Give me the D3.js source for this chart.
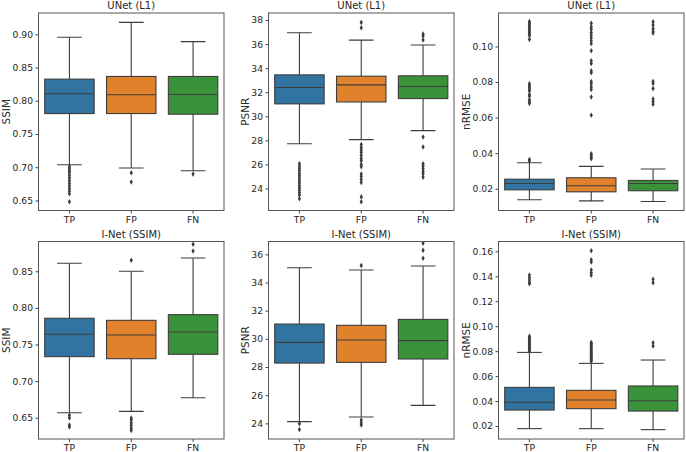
<!DOCTYPE html>
<html lang="en">
<head>
<meta charset="UTF-8">
<title>Box plots TP / FP / FN</title>
<script src="https://d3js.org/d3.v7.min.js"></script>
<style>
  body { margin: 0; background: #fff; }
  svg { display: block; font-family: "DejaVu Sans", sans-serif; }
  .tick text { fill: #262626; }
  .tick line { stroke: #444; }
</style>
</head>
<body>
<div class="viz"></div>
<script>
const categories = ["TP", "FP", "FN"];
const colors = ["#3274a1", "#e1812c", "#3a923a"];
const titles = ["UNet (L1)", "UNet (L1)", "UNet (L1)", "I-Net (SSIM)", "I-Net (SSIM)", "I-Net (SSIM)"];
const metrics = ["SSIM", "PSNR", "nRMSE", "SSIM", "PSNR", "nRMSE"];

// y ranges
const yDomains = [
    [0.6349, 0.9321], [22.17, 38.58], [0.0078, 0.1188],
    [0.6209, 0.8907], [22.89, 36.91], [0.0096, 0.1679]
];
const yTicks = [
    [0.65, 0.70, 0.75, 0.80, 0.85, 0.90],
    [24, 26, 28, 30, 32, 34, 36, 38],
    [0.02, 0.04, 0.06, 0.08, 0.10],
    [0.65, 0.70, 0.75, 0.80, 0.85],
    [24, 26, 28, 30, 32, 34, 36],
    [0.02, 0.04, 0.06, 0.08, 0.10, 0.12, 0.14, 0.16]
];
const tickFormats = [".2f", "d", ".2f", ".2f", "d", ".2f"];

// [lower whisker, q1, median, q3, upper whisker] for TP, FP, FN
const unetSsimBoxes = [
    [0.7038, 0.7808, 0.8105, 0.8326, 0.8955],
    [0.6988, 0.7808, 0.8090, 0.8366, 0.9180],
    [0.6948, 0.7798, 0.8095, 0.8366, 0.8890]
];
const unetSsimFliers = [
    [0.701, 0.698, 0.695, 0.692, 0.688, 0.684, 0.680, 0.676, 0.672, 0.668, 0.664, 0.660, 0.648],
    [0.6917, 0.6777],
    [0.6897]
];
const unetPsnrBoxes = [
    [27.72, 31.03, 32.39, 33.44, 36.94],
    [28.06, 31.19, 32.61, 33.33, 36.33],
    [28.81, 31.47, 32.47, 33.36, 35.92]
];
const unetPsnrFliers = [
    [26.05, 25.85, 25.65, 25.45, 25.25, 25.05, 24.85, 24.65, 24.45, 24.25, 24.05, 23.85, 23.65, 23.45, 23.15],
    [37.80, 37.35, 27.65, 27.40, 27.20, 27.00, 26.75, 26.50, 26.30, 26.00, 25.80, 25.20, 25.00, 24.75, 24.50, 23.30, 22.90],
    [36.83, 36.67, 36.33, 28.28, 27.44, 26.06, 25.86, 25.64, 25.42, 25.22, 24.94]
];
const unetNrmseBoxes = [
    [0.0138, 0.0194, 0.0230, 0.0254, 0.0346],
    [0.0132, 0.0183, 0.0217, 0.0262, 0.0326],
    [0.0129, 0.0189, 0.0230, 0.0247, 0.0311]
];
const unetNrmseFliers = [
    [0.0364, 0.0356, 0.114, 0.113, 0.112, 0.111, 0.110, 0.109, 0.108, 0.107, 0.106, 0.104,
     0.079, 0.078, 0.077, 0.076, 0.075, 0.073, 0.072, 0.070, 0.069, 0.068],
    [0.0397, 0.0388, 0.0378, 0.0369, 0.0613, 0.0716, 0.0758, 0.0773, 0.0792, 0.0803, 0.0852, 0.0863,
     0.0904, 0.0919, 0.0976, 0.1017, 0.1032, 0.1049, 0.1064, 0.1079, 0.1096, 0.1111, 0.1130],
    [0.1139, 0.1120, 0.1100, 0.1085, 0.1075, 0.0803, 0.0792, 0.0763, 0.0705, 0.0690, 0.0675]
];
const inetSsimBoxes = [
    [0.6568, 0.7334, 0.7639, 0.7858, 0.8610],
    [0.6587, 0.7306, 0.7630, 0.7830, 0.8500],
    [0.6773, 0.7366, 0.7671, 0.7908, 0.8682]
];
const inetSsimFliers = [
    [0.6532, 0.6495, 0.6400, 0.6373],
    [0.8650, 0.6495, 0.6468, 0.6432, 0.6396, 0.6359, 0.6327],
    [0.8778, 0.8869]
];
const inetPsnrBoxes = [
    [24.12, 28.28, 29.75, 31.05, 35.05],
    [24.45, 28.33, 29.92, 30.96, 34.89],
    [25.28, 28.57, 29.87, 31.38, 35.17]
];
const inetPsnrFliers = [
    [23.98, 23.57],
    [35.20, 24.24, 24.05, 23.88],
    [35.72, 36.28, 36.78]
];
const inetNrmseBoxes = [
    [0.0179, 0.0328, 0.0390, 0.0510, 0.0790],
    [0.0179, 0.0339, 0.0408, 0.0486, 0.0702],
    [0.0171, 0.0320, 0.0403, 0.0521, 0.0729]
];
const inetNrmseFliers = [
    [0.092, 0.091, 0.090, 0.089, 0.088, 0.087, 0.086, 0.085, 0.084, 0.083, 0.082, 0.081, 0.080,
     0.141, 0.139, 0.137, 0.135, 0.134],
    [0.087, 0.086, 0.085, 0.084, 0.083, 0.082, 0.081, 0.080, 0.079, 0.078, 0.077, 0.076, 0.075, 0.074, 0.073, 0.072,
     0.1605, 0.1533, 0.1515, 0.1450, 0.1429, 0.1408],
    [0.0868, 0.0841, 0.1376, 0.1349]
];

const allBoxes = [unetSsimBoxes, unetPsnrBoxes, unetNrmseBoxes, inetSsimBoxes, inetPsnrBoxes, inetNrmseBoxes];
const allFliers = [unetSsimFliers, unetPsnrFliers, unetNrmseFliers, inetSsimFliers, inetPsnrFliers, inetNrmseFliers];

const width = 686, height = 452;
const panelW = 185.5, panelH = 197.5;
const lineColor = "#3d3d3d";

const svg = d3.select(".viz").append("svg")
    .attr("width", width)
    .attr("height", height);

allBoxes.forEach((boxes, i) => {
    const col = i % 3, row = Math.floor(i / 3);
    const px = 38.5 + col * 230, py = 13 + row * 228.5;
    const g = svg.append("g").attr("transform", `translate(${px},${py})`);

    const x = d3.scaleBand().domain(categories).range([0, panelW]);
    const y = d3.scaleLinear().domain(yDomains[i]).range([panelH, 0]);
    const bw = x.bandwidth() * 0.8;

    g.append("clipPath").attr("id", "clip" + i)
        .append("rect").attr("width", panelW).attr("height", panelH);

    const plot = g.append("g").attr("clip-path", `url(#clip${i})`);

    const box = plot.selectAll(".box")
        .data(boxes)
        .enter().append("g")
        .attr("class", "box")
        .attr("transform", (d, j) => `translate(${x(categories[j]) + x.bandwidth() / 2},0)`);

    // whiskers
    box.append("line")
        .attr("y1", d => y(d[0])).attr("y2", d => y(d[1]))
        .attr("stroke", lineColor).attr("stroke-width", 1.1);
    box.append("line")
        .attr("y1", d => y(d[3])).attr("y2", d => y(d[4]))
        .attr("stroke", lineColor).attr("stroke-width", 1.1);
    // caps
    [0, 4].forEach(k => {
        box.append("line")
            .attr("x1", -bw / 4).attr("x2", bw / 4)
            .attr("y1", d => y(d[k])).attr("y2", d => y(d[k]))
            .attr("stroke", lineColor).attr("stroke-width", 1.1);
    });
    box.append("rect")
        .attr("x", -bw / 2).attr("width", bw)
        .attr("y", d => y(d[3]))
        .attr("height", d => y(d[1]) - y(d[3]))
        .attr("fill", (d, j) => colors[j])
        .attr("stroke", lineColor).attr("stroke-width", 1.1);
    box.append("line")
        .attr("x1", -bw / 2).attr("x2", bw / 2)
        .attr("y1", d => y(d[2])).attr("y2", d => y(d[2]))
        .attr("stroke", lineColor).attr("stroke-width", 1.1);

    // outliers
    box.each(function(d, j) {
        d3.select(this).selectAll(".flier")
            .data(allFliers[i][j])
            .enter().append("path")
            .attr("class", "flier")
            .attr("d", d3.symbol(d3.symbolDiamond, 9))
            .attr("transform", v => `translate(0,${y(v)})`)
            .attr("fill", lineColor);
    });

    // axes
    const yAxis = g.append("g")
        .call(d3.axisLeft(y).tickValues(yTicks[i]).tickFormat(d3.format(tickFormats[i]))
            .tickSize(3).tickPadding(2.5));
    yAxis.select(".domain").remove();
    yAxis.selectAll("text").attr("font-size", 9.2).attr("font-family", "DejaVu Sans");

    const xAxis = g.append("g")
        .attr("transform", `translate(0,${panelH})`)
        .call(d3.axisBottom(x).tickSize(3).tickPadding(2.5));
    xAxis.select(".domain").remove();
    xAxis.selectAll("text").attr("font-size", 9.2).attr("font-family", "DejaVu Sans");

    g.append("rect")
        .attr("width", panelW).attr("height", panelH)
        .attr("fill", "none").attr("stroke", "#555").attr("stroke-width", 1);

    g.append("text")
        .attr("x", panelW / 2).attr("y", -4)
        .attr("text-anchor", "middle")
        .attr("font-size", 10)
        .attr("fill", "#262626")
        .text(titles[i]);

    const labelX = [-29, -19.5, -28.5][col];
    g.append("text")
        .attr("transform", `translate(${labelX},${panelH / 2}) rotate(-90)`)
        .attr("text-anchor", "middle")
        .attr("font-size", 10.5)
        .attr("fill", "#262626")
        .text(metrics[i]);
});
</script>
</body>
</html>
